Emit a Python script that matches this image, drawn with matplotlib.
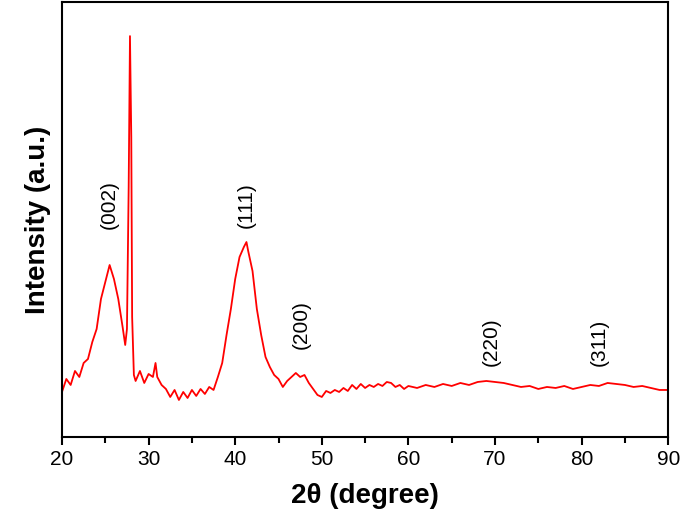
import matplotlib.pyplot as plt

plt.rcParams["font.family"] = "Liberation Sans"

# XRD pattern (arbitrary intensity units)
two_theta = [20, 20.5, 21, 21.5, 22, 22.5, 23, 23.5, 24, 24.5, 25, 25.5, 26, 26.5, 27, 27.3,
             27.5, 27.7, 27.85, 28.0, 28.1, 28.3, 28.5, 29, 29.5, 30, 30.5, 30.8, 31, 31.5,
             32, 32.5, 33, 33.5, 34, 34.5, 35, 35.5, 36, 36.5, 37, 37.5, 38, 38.5, 39, 39.5,
             40, 40.5, 41, 41.3, 41.5, 42, 42.5, 43, 43.5, 44, 44.5, 45, 45.5, 46, 46.5, 47,
             47.5, 48, 48.5, 49, 49.5, 50, 50.5, 51, 51.5, 52, 52.5, 53, 53.5, 54, 54.5, 55,
             55.5, 56, 56.5, 57, 57.5, 58, 58.5, 59, 59.5, 60, 61, 62, 63, 64, 65, 66, 67, 68,
             69, 70, 71, 72, 73, 74, 75, 76, 77, 78, 79, 80, 81, 82, 83, 84, 85, 86, 87, 88,
             89, 90]
intensity = [45, 58, 52, 66, 60, 74, 78, 95, 108, 138, 155, 172, 158, 138, 110, 92,
             108, 250, 401, 300, 120, 62, 56, 66, 54, 63, 60, 74, 60, 52,
             48, 40, 47, 37, 45, 39, 47, 41, 48, 43, 50, 47, 60, 74, 102, 128,
             158, 180, 190, 195, 186, 166, 128, 102, 80, 70, 62, 58, 50, 56, 60, 64,
             60, 62, 54, 48, 42, 40, 46, 44, 47, 45, 49, 46, 52, 48, 53, 49,
             52, 50, 53, 51, 55, 54, 50, 52, 48, 51, 49, 52, 50, 53, 51, 54, 52, 55,
             56, 55, 54, 52, 50, 51, 48, 50, 49, 51, 48, 50, 52, 51, 54, 53, 52, 50, 51, 49,
             47, 47]

peak_labels = ["(002)", "(111)", "(200)", "(220)", "(311)"]
label_x = [25.5, 41.3, 47.6, 69.6, 82.0]
label_y = [232, 232, 112, 95, 95]

fig = plt.figure(figsize=(6.85, 5.29), dpi=100)
ax = fig.add_axes([0.0905, 0.174, 0.885, 0.822])
ax.plot(two_theta, intensity, color="#ff0000", lw=1.3)

for lab, x, y in zip(peak_labels, label_x, label_y):
    ax.text(x, y, lab, rotation=90, ha="center", va="center", fontsize=15)

ax.set_xlim(20, 90)
ax.set_ylim(0, 435)
ax.set_xticks(range(20, 91, 10))
ax.set_xticks(range(25, 90, 10), minor=True)
ax.set_yticks([])
ax.tick_params(axis="x", labelsize=15, width=1.5, length=6)
ax.tick_params(axis="x", which="minor", width=1.5, length=4)
for s in ax.spines.values():
    s.set_linewidth(1.5)

ax.set_xlabel("2θ (degree)", fontsize=20, fontweight="bold", labelpad=10)
ax.set_ylabel("Intensity (a.u.)", fontsize=20, fontweight="bold", labelpad=8)

fig.savefig("out.png", dpi=100)
